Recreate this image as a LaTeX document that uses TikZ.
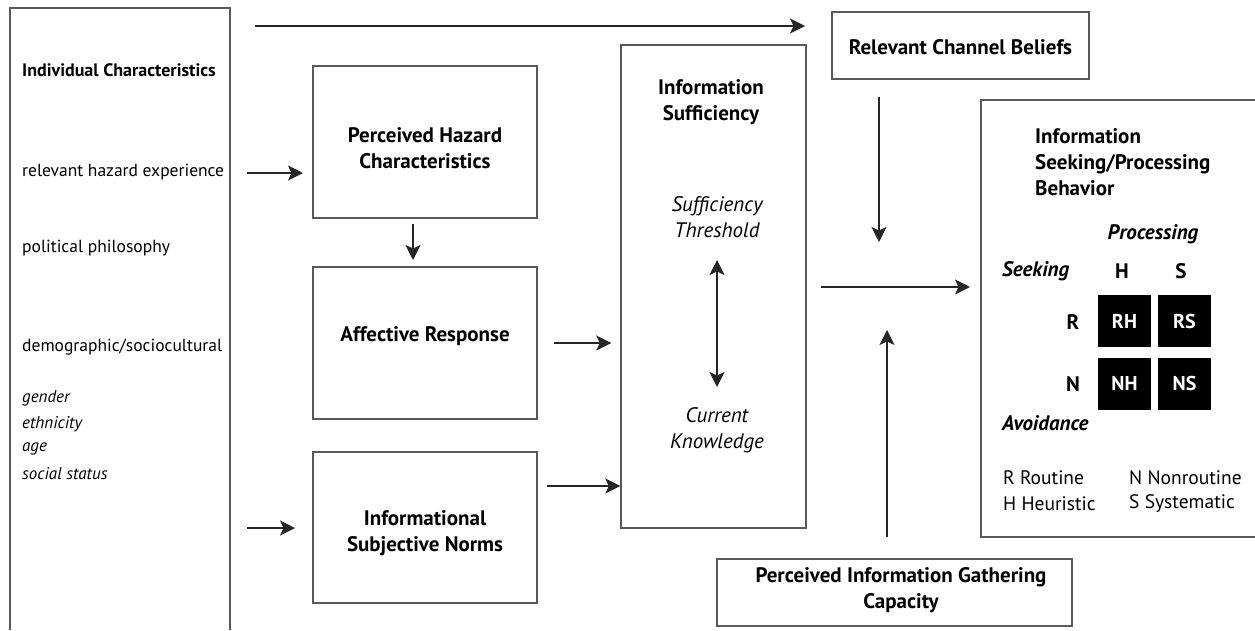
\documentclass[tikz,border=0pt]{standalone}
\usepackage{fontspec}
\setmainfont{PT Sans}
\usetikzlibrary{arrows.meta}
\begin{document}
\begin{tikzpicture}[x=1pt,y=-1pt,
  frame/.style={draw=black!65, line width=1.4pt},
  box/.style={frame, inner sep=0pt},
  tip/.tip={Stealth[length=15pt,width=15pt,inset=3.5pt]},
  arr/.style={-tip, line width=1.4pt, draw=black!85},
  darr/.style={tip-tip, line width=1.4pt, draw=black!85},
  ttl/.style={font=\fontsize{21}{26}\selectfont\bfseries, align=center, inner sep=0pt},
  itl/.style={font=\fontsize{21}{26}\selectfont\itshape, align=center, inner sep=0pt},
  lft/.style={font=\fontsize{17.5}{20}\selectfont, anchor=west, inner sep=0pt},
  lfti/.style={font=\fontsize{17}{20}\selectfont\itshape, anchor=west, inner sep=0pt},
  leg/.style={font=\fontsize{19.5}{22}\selectfont, anchor=west, inner sep=0pt},
  hdr/.style={font=\fontsize{21}{24}\selectfont\bfseries, inner sep=0pt},
  hdri/.style={font=\fontsize{21}{24}\selectfont\bfseries\itshape, inner sep=0pt},
  cell/.style={fill=black, text=white, minimum width=53pt, minimum height=52pt, inner sep=0pt, font=\fontsize{20}{22}\selectfont\bfseries}
]
\useasboundingbox[fill=white] (0,0) rectangle (1255,630);

% left open box (Individual Characteristics)
\coordinate (indtl) at (10,8);
\coordinate (indtr) at (230,8);
\draw[frame] (10,630) -- (indtl) -- (indtr) -- (230,630);
\node[lft, font=\fontsize{18}{20}\selectfont\bfseries] (ind) at (22,70) {Individual Characteristics};
\node[lft] (rhe) at (22,172) {relevant hazard experience};
\node[lft] (pp) at (22,248) {political philosophy};
\node[lft] (demo) at (22,347) {demographic/sociocultural};
\node[lfti] (gen) at (22,398) {gender};
\node[lfti] (eth) at (22,424) {ethnicity};
\node[lfti] (age) at (22,449) {age};
\node[lfti] (soc) at (22,474) {social status};

% middle boxes
\node[box, minimum width=224pt, minimum height=152pt] (ph) at (425,142) {};
\node[ttl] (pht) at (425,148) {Perceived Hazard\\Characteristics};
\node[box, minimum width=224pt, minimum height=152pt] (ar) at (425,343) {};
\node[ttl] (art) at (425,336) {Affective Response};
\node[box, minimum width=224pt, minimum height=151pt] (isn) at (425,527.5) {};
\node[ttl] (isnt) at (425,533) {Informational\\Subjective Norms};

% information sufficiency
\node[box, minimum width=185pt, minimum height=483pt] (is) at (713.5,286.5) {};
\node[ttl] (ist) at (711,102.5) {Information\\Sufficiency};
\node[itl] (st) at (717,217) {Sufficiency\\Threshold};
\node[itl] (ck) at (717,430) {Current\\Knowledge};
\coordinate (dtop) at (717,260);
\coordinate (dbot) at (717,387);
\draw[darr] (dtop) -- (dbot);

% relevant channel beliefs
\node[box, minimum width=257pt, minimum height=67pt] (rcb) at (960.5,45.5) {};
\node[ttl] (rcbt) at (960.5,47) {Relevant Channel Beliefs};

% perceived information gathering capacity
\node[box, minimum width=355pt, minimum height=67pt] (pigc) at (894.5,592.5) {};
\node[ttl] (pigct) at (901,590) {Perceived Information Gathering\\Capacity};

% information seeking / processing behavior (open right)
\coordinate (sptl) at (981,100);
\coordinate (spbl) at (981,537);
\draw[frame] (1255,100) -- (sptl) -- (spbl) -- (1255,537);
\node[ttl, align=left, anchor=west] (spt) at (1035,162.5) {Information\\Seeking/Processing\\Behavior};
\node[hdri] (proc) at (1153,234) {Processing};
\node[hdri, anchor=west] (seek) at (1002,271) {Seeking};
\node[hdr] (hh) at (1122,271) {H};
\node[hdr] (ss) at (1181,271) {S};
\node[cell] (rh) at (1124.5,321) {RH};
\node[cell] (rs) at (1184.5,321) {RS};
\node[cell] (nh) at (1124.5,383.5) {NH};
\node[cell] (ns) at (1184.5,383.5) {NS};
\node[hdr] (rr) at (1073,322) {R};
\node[hdr] (nn) at (1073,384) {N};
\node[hdri, anchor=west] (avoid) at (1002,423) {Avoidance};
\node[leg] (rout) at (1003,478) {R Routine};
\node[leg] (heur) at (1003,504) {H Heuristic};
\node[leg] (nonr) at (1129,478) {N Nonroutine};
\node[leg] (syst) at (1129,504) {S Systematic};

% connectors
\coordinate (topS) at (255,26);
\coordinate (topE) at (805,26);
\draw[arr] (topS) -- (topE);
\coordinate (a1s) at (247,173);
\coordinate (a1e) at (303,173);
\draw[arr] (a1s) -- (a1e);
\coordinate (a2s) at (247,528);
\coordinate (a2e) at (295,528);
\draw[arr] (a2s) -- (a2e);
\coordinate (phS) at (413,224);
\coordinate (phE) at (413,260);
\draw[arr] (phS) -- (phE);
\coordinate (a3s) at (554,343);
\draw[arr] (a3s) -- ([xshift=-9pt]is.west |- a3s);
\coordinate (a4s) at (547,486);
\draw[arr] (a4s) -- (is.west |- a4s);
\coordinate (rcbS) at (879,97);
\coordinate (rcbE) at (879,242);
\draw[arr] (rcbS) -- (rcbE);
\coordinate (mainS) at (821,287);
\draw[arr] (mainS) -- ([xshift=-11pt]sptl |- mainS);
\coordinate (pgS) at (887,537);
\coordinate (pgE) at (887,330);
\draw[arr] (pgS) -- (pgE);
\end{tikzpicture}
\end{document}
